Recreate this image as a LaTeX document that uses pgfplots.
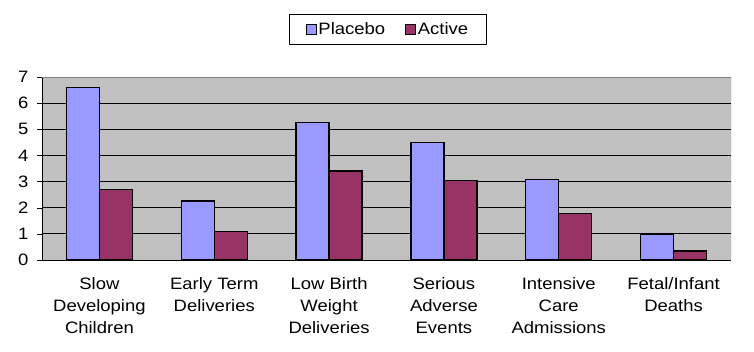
\documentclass[border=0pt]{standalone}
\usepackage{pgfplots}
\pgfplotsset{compat=1.18}
\usepackage{fontspec}
\setmainfont[FakeStretch=1.12]{Liberation Sans}
\definecolor{placebo}{RGB}{153,153,255}
\definecolor{active}{RGB}{153,51,102}
\definecolor{plotbg}{RGB}{192,192,192}
\begin{document}
\fontsize{16.5bp}{21.5bp}\selectfont
\begin{tikzpicture}
\begin{axis}[
  scale only axis,
  width=689bp, height=183bp,
  ybar=0pt, bar width=33bp,
  xmin=-0.5, xmax=5.5,
  ymin=0, ymax=7,
  ytick={0,1,...,7},
  xtick={0,...,5},
  xticklabels={Slow\\Developing\\Children, Early Term\\Deliveries, Low Birth\\Weight\\Deliveries, Serious\\Adverse\\Events, Intensive\\Care\\Admissions, Fetal/Infant\\Deaths},
  xticklabel style={align=center, font=\fontsize{16.5bp}{22bp}\selectfont, yshift=-7bp},
  yticklabel style={font=\fontsize{16.5bp}{19bp}\selectfont, xshift=-3bp},
  /pgf/number format/assume math mode=true,
  major x tick style={draw=none},
  extra x ticks={-0.5,0.5,1.5,2.5,3.5,4.5,5.5},
  extra x tick labels={},
  extra x tick style={major tick length=5bp, tick align=outside, major tick style={draw=black, thin}},
  ytick align=outside, major tick length=5bp,
  ytick style={draw=black, thin},
  ymajorgrids, grid style={black, line width=0.9bp},
  axis background/.style={fill=plotbg},
  axis x line*=bottom, axis y line*=left,
  axis line style={black, line width=0.8bp, -},
  separate axis lines,
  legend style={at={(0.5,1)}, anchor=south, xshift=1.5bp, yshift=32bp, draw=black, line width=0.8bp,
    legend columns=2, font=\fontsize{16.5bp}{20bp}\selectfont,
    /tikz/every even column/.append style={column sep=18bp}, inner xsep=16bp, inner ysep=6bp},
  legend image code/.code={\draw[#1, draw=black, line width=0.7bp] (0bp,-5bp) rectangle (10bp,5bp);},
]
\addplot[fill=placebo, draw=black, line width=1.4bp] coordinates {(0,6.6) (1,2.25) (2,5.25) (3,4.5) (4,3.08) (5,1.0)};
\addplot[fill=active, draw=black, line width=1.4bp] coordinates {(0,2.7) (1,1.08) (2,3.4) (3,3.03) (4,1.77) (5,0.35)};
\legend{Placebo, Active}
\draw[gray, line width=0.9bp] (rel axis cs:0,1) -- (rel axis cs:1,1) -- (rel axis cs:1,0);
\end{axis}
\pgfresetboundingbox
\path[use as bounding box] ([xshift=-42bp,yshift=-92bp]current axis.south west) rectangle ([xshift=23bp,yshift=77bp]current axis.north east);
\end{tikzpicture}
\end{document}
